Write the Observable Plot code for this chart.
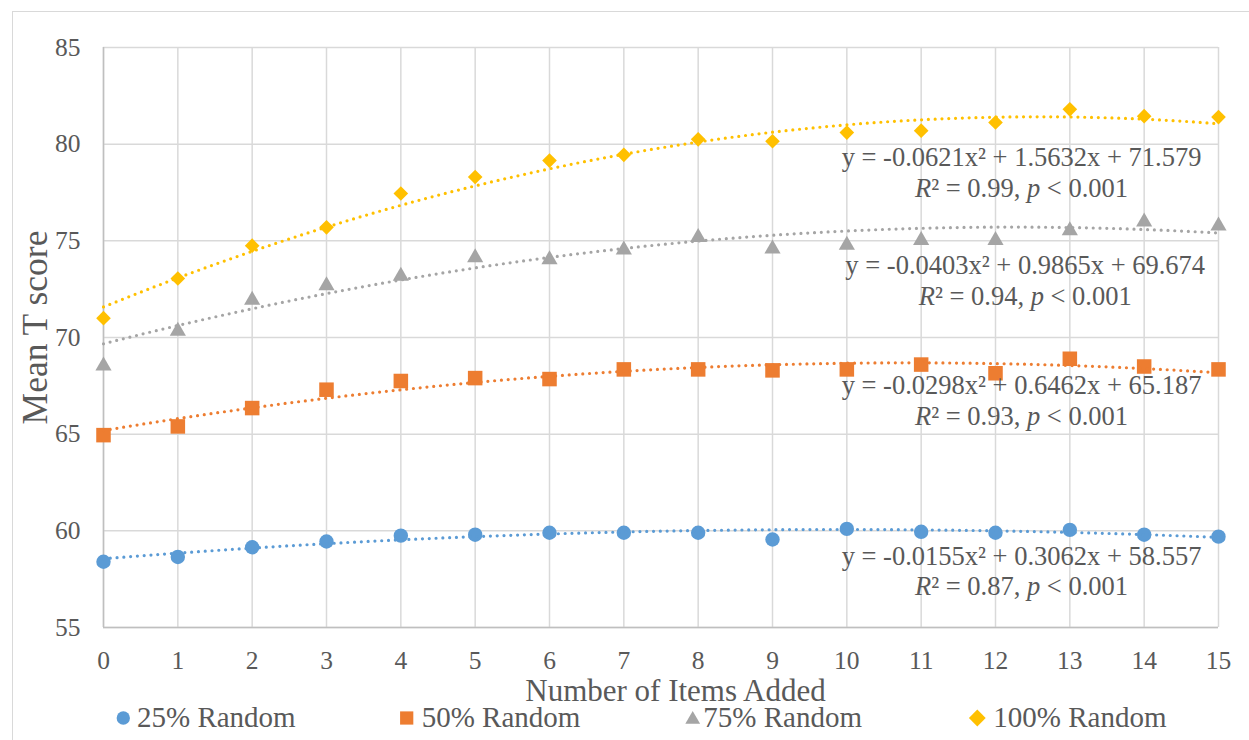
<!DOCTYPE html>
<html>
<head>
<meta charset="utf-8">
<script src="https://cdn.jsdelivr.net/npm/d3@7"></script>
<script src="https://cdn.jsdelivr.net/npm/@observablehq/plot@0.6"></script>
<style>
  html, body { margin: 0; padding: 0; background: #fff; overflow: hidden; }
  #wrap { position: relative; width: 1249px; height: 740px; overflow: hidden; }
  #chart { position: absolute; left: 0; top: 0; }
  #legend { position: absolute; left: 0; top: 702px; }
  #frame { position: absolute; left: 12px; top: 11px; width: 1400px; height: 900px;
           border: 1.5px solid #d9d9d9; pointer-events: none; box-sizing: border-box; }
</style>
</head>
<body>
<div id="wrap">
  <div id="chart"></div>
  <svg id="legend" width="1249" height="38"></svg>
  <div id="frame"></div>
</div>
<script>
// ---- data ----
const items = [0, 1, 2, 3, 4, 5, 6, 7, 8, 9, 10, 11, 12, 13, 14, 15];
const seriesNames = ["25% Random", "50% Random", "75% Random", "100% Random"];
const r25  = [58.4, 58.65, 59.15, 59.45, 59.75, 59.8, 59.9, 59.9, 59.9, 59.55, 60.1, 59.95, 59.9, 60.05, 59.8, 59.7];
const r50  = [64.95, 65.4, 66.35, 67.3, 67.75, 67.9, 67.85, 68.35, 68.35, 68.3, 68.35, 68.6, 68.15, 68.9, 68.5, 68.35];
const r75  = [68.65, 70.45, 72.05, 72.8, 73.3, 74.25, 74.15, 74.65, 75.3, 74.7, 74.9, 75.15, 75.15, 75.65, 76.1, 75.9];
const r100 = [71.0, 73.05, 74.75, 75.7, 77.45, 78.3, 79.15, 79.45, 80.25, 80.15, 80.6, 80.7, 81.12, 81.8, 81.45, 81.4];
// quadratic trendline coefficients (y = a x^2 + b x + c), as printed on the chart
const trendA = [-0.0155, -0.0298, -0.0403, -0.0621];
const trendB = [0.3062, 0.6462, 0.9865, 1.5632];
const trendC = [58.557, 65.187, 69.674, 71.579];
const eqLine1 = [
  "y = -0.0155x\u00B2 + 0.3062x + 58.557",
  "y = -0.0298x\u00B2 + 0.6462x + 65.187",
  "y = -0.0403x\u00B2 + 0.9865x + 69.674",
  "y = -0.0621x\u00B2 + 1.5632x + 71.579"
];
const eqLine2 = [
  "R\u00B2 = 0.87, p < 0.001",
  "R\u00B2 = 0.93, p < 0.001",
  "R\u00B2 = 0.94, p < 0.001",
  "R\u00B2 = 0.99, p < 0.001"
];
const eqX = [12.35, 12.35, 12.4, 12.35];
const eqY1 = [58.21, 67.10, 73.26, 78.85];
const eqY2 = [56.66, 65.50, 71.66, 77.29];
const xTicks = [0, 1, 2, 3, 4, 5, 6, 7, 8, 9, 10, 11, 12, 13, 14, 15];
const yTicks = [55, 60, 65, 70, 75, 80, 85];
const colors = ["#5B9BD5", "#ED7D31", "#A5A5A5", "#FFC000"];
const symbols = ["circle", "square", "triangle", "diamond2"];

// ---- tables ----
const values = [r25, r50, r75, r100];
const pts = values.map((vals, s) => items.map((x, i) => ({x, y: vals[i], s})));
const trendX = d3.range(0, 15.001, 0.1);
const trends = trendA.map((a, s) => trendX.map(x => ({x, y: a * x * x + trendB[s] * x + trendC[s], s})));
const eqs = seriesNames.map((n, s) => ({x: eqX[s], y1: eqY1[s], y2: eqY2[s], l1: eqLine1[s], l2: eqLine2[s]}));

const textColor = "#595959";
const serif = "'Liberation Serif', 'Times New Roman', serif";

const markR = [7.2, 8.2, 6.0, 6.6];
const markDy = [0, 0, 2.3, 0];

const marks = [
  Plot.gridX(xTicks, {stroke: "#d9d9d9", strokeOpacity: 1, strokeWidth: 1.5}),
  Plot.gridY(yTicks, {stroke: "#d9d9d9", strokeOpacity: 1, strokeWidth: 1.5}),
  Plot.ruleX([0], {stroke: "#bfbfbf", strokeWidth: 1.5}),
  Plot.ruleY([55], {stroke: "#bfbfbf", strokeWidth: 1.5}),
  Plot.axisX(xTicks, {tickSize: 0, tickPadding: 23, fontSize: 25.5, label: null, tickFormat: d => String(d)}),
  Plot.axisY(yTicks, {tickSize: 0, tickPadding: 23, fontSize: 25.5, label: null, tickFormat: d => String(d)})
];
pts.forEach((p, s) => {
  marks.push(Plot.dot(p, {x: "x", y: "y", symbol: () => symbols[s], fill: colors[s], stroke: "none", r: markR[s], dy: markDy[s]}));
});
trends.forEach((t, s) => {
  marks.push(Plot.line(t, {x: "x", y: "y", stroke: colors[s], strokeWidth: 3.2, strokeDasharray: "0 6.8", strokeLinecap: "round", curve: "linear"}));
});
marks.push(
  Plot.text(eqs, {x: "x", y: "y1", text: "l1", fontSize: 26.5, fill: textColor, textAnchor: "middle", lineAnchor: "bottom"}),
  Plot.text(eqs, {x: "x", y: "y2", text: "l2", fontSize: 26.5, fill: textColor, textAnchor: "middle", lineAnchor: "bottom"}),
  Plot.text(["Number of Items Added"], {frameAnchor: "bottom", dy: 73, dx: 14.5, fontSize: 31, fill: textColor, textAnchor: "middle", lineAnchor: "bottom"}),
  Plot.text(["Mean T score"], {frameAnchor: "left", dx: -57, dy: -10, rotate: -90, fontSize: 35.5, fill: textColor, textAnchor: "middle", lineAnchor: "bottom"})
);

const chart = Plot.plot({
  width: 1249,
  height: 704,
  marginLeft: 103,
  marginRight: 31,
  marginTop: 47,
  marginBottom: 77,
  x: {domain: [0, 15], axis: null},
  y: {domain: [55, 85], axis: null},
  style: {fontFamily: serif, color: textColor, background: "transparent", overflow: "visible", fontSize: "25.5px"},
  marks
});
document.getElementById("chart").appendChild(chart);

// italic R and p in the R² lines
d3.select(chart).selectAll("text").each(function () {
  const s = this.textContent;
  const m = s.match(/^(R)(\u00B2 = .*?, )(p)( < .*)$/);
  if (!m) return;
  this.textContent = "";
  const sel = d3.select(this);
  sel.append("tspan").attr("font-style", "italic").text(m[1]);
  sel.append("tspan").text(m[2]);
  sel.append("tspan").attr("font-style", "italic").text(m[3]);
  sel.append("tspan").text(m[4]);
});

// ---- legend ----
const lg = d3.select("#legend");
const legX = [123.3, 406.7, 692.7, 977.3];
const legTextX = [137, 421.7, 703.3, 993.3];
const legSym = [d3.symbolCircle, d3.symbolSquare, d3.symbolTriangle, d3.symbolDiamond2];
const legSize = [140, 175, 95, 180];
const legDy = [0, 0, 1.5, 0];
seriesNames.forEach((name, s) => {
  lg.append("path")
    .attr("d", d3.symbol(legSym[s], legSize[s])())
    .attr("transform", `translate(${legX[s]},${16 + legDy[s]})`)
    .attr("fill", colors[s]);
  lg.append("text")
    .attr("x", legTextX[s]).attr("y", 25)
    .attr("font-family", serif).attr("font-size", 29)
    .attr("fill", textColor)
    .text(name);
});
</script>
</body>
</html>
